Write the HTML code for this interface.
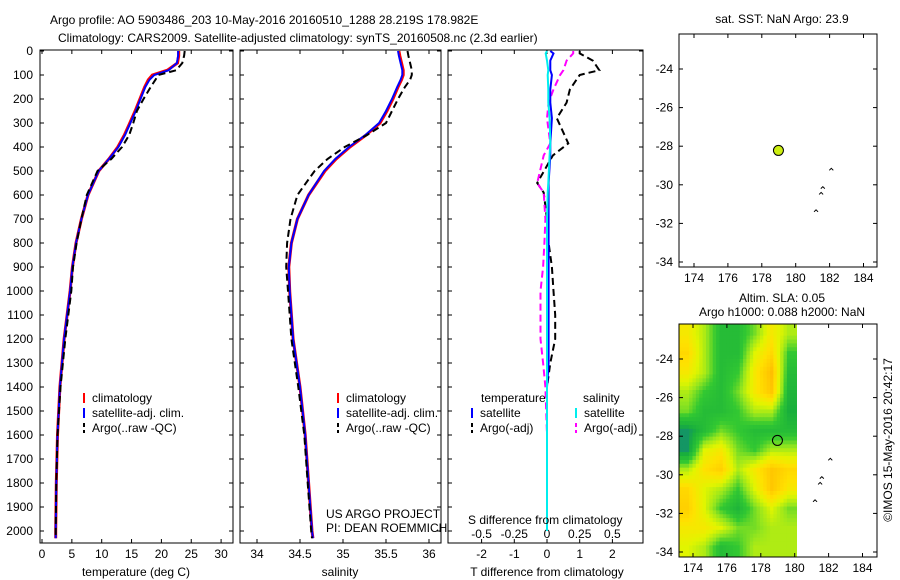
<!DOCTYPE html>
<html><head><meta charset="utf-8"><style>
body{margin:0;background:#fff;}
svg{display:block;font-family:"Liberation Sans","DejaVu Sans",sans-serif;}
text{font-size:12px;fill:#000;}
</style></head><body>
<svg id="c" width="900" height="580" viewBox="0 0 900 580" xmlns="http://www.w3.org/2000/svg">
<defs>
<clipPath id="hmclip"><rect x="679" y="324" width="118" height="233"/></clipPath>
</defs>
<text x="50" y="24">Argo profile: AO 5903486_203 10-May-2016 20160510_1288 28.219S 178.982E</text>
<text x="58" y="42">Climatology: CARS2009. Satellite-adjusted climatology: synTS_20160508.nc (2.3d earlier)</text>
<g id="g"></g>
</svg>
<script>
// ---- data ----
const depths = [0,20,50,80,100,120,150,200,250,300,350,400,450,500,600,700,800,900,1000,1200,1400,1600,1800,2000,2030];
const tempClim = [22.9,22.9,22.7,21,18.5,17.8,17.2,16.4,15.6,14.7,13.8,12.7,11.2,9.5,7.7,6.6,5.7,5.1,4.7,3.7,3.0,2.6,2.4,2.3,2.3];
const tempSat  = [22.8,22.8,22.6,21.2,18.8,18,17.3,16.5,15.7,14.8,13.9,12.8,11.2,9.5,7.7,6.6,5.7,5.1,4.7,3.7,3.0,2.6,2.4,2.3,2.3];
const tempArgo = [23.9,23.8,23.5,22.5,19.5,19,18.2,17.0,15.9,15.3,14.6,13.4,11.6,9.3,7.5,6.6,5.8,5.2,4.9,3.9,3.1,2.6,2.4,2.3,2.3];
const salClim = [35.65,35.66,35.68,35.7,35.7,35.68,35.64,35.58,35.51,35.43,35.27,35.08,34.92,34.79,34.6,34.47,34.4,34.37,34.38,34.42,34.5,34.56,34.6,34.64,34.65];
const salSat  = [35.64,35.65,35.67,35.69,35.69,35.67,35.63,35.57,35.5,35.42,35.26,35.07,34.91,34.78,34.6,34.47,34.4,34.37,34.38,34.42,34.5,34.56,34.6,34.64,34.65];
const salArgo = [35.75,35.76,35.78,35.8,35.8,35.78,35.72,35.64,35.57,35.5,35.28,35.02,34.82,34.67,34.47,34.39,34.35,34.34,34.36,34.4,34.48,34.55,34.59,34.63,34.64];
const diffDepths = [0,10,40,80,100,160,215,280,385,435,550,590,700,800,900,1000,1100,1200,1300,1400,1600,1800,2000];
const dTsat  = [0.1,0.2,0.1,0.1,0.15,0.1,0.1,0.15,0.1,0.1,0.05,0.05,0.05,0.05,0.05,0.05,0.05,0.05,0.05,0.0,0.0,0.0,0.0];
const dSsat  = [0,-0.01,0,0.01,0.005,0.01,0.01,0.02,0.025,0.02,0.01,0.005,0.0,0.0,0.0,0.0,0.0,0.0,0.0,0.0,0.0,0.0,0.0];
const dTargo = [1.0,1.0,1.4,1.6,1.0,0.7,0.6,0.3,0.65,0.18,-0.3,-0.1,0.0,0.05,0.15,0.2,0.25,0.25,0.1,0.0,0.0,0.0,0.0];
const dSargo = [0.2,0.2,0.15,0.125,0.1,0.05,0.012,0.0,0.025,-0.025,-0.075,-0.025,-0.012,-0.02,-0.03,-0.05,-0.05,-0.05,-0.03,-0.012,0.0,0.0,0.0];
const tTicks = [0,5,10,15,20,25,30];
const sTicks = [34,34.5,35,35.5,36];
const dTicksT = [-2,-1,0,1,2];
const dTicksS = ["-0.5","-0.25","0","0.25","0.5"];
const depthTicks = [0,100,200,300,400,500,600,700,800,900,1000,1100,1200,1300,1400,1500,1600,1700,1800,1900,2000];
const lonTicks = [174,176,178,180,182,184];
const latTicks = [-24,-26,-28,-30,-32,-34];
const argoLon = [178.982];
const argoLat = [-28.219];
const slaRows = [
[0.6,0.4,0.1,0.1,0.3,0.6,0.4],
[0.7,0.4,0.1,0.1,0.5,0.7,0.2],
[0.6,0.4,0.1,0.2,0.6,0.85,0.1],
[0.4,0.2,0.1,0.3,0.6,0.8,0.05],
[0.3,0.1,0.1,0.2,0.4,0.4,0.0],
[-0.1,0.1,0.3,0.2,0.1,0.1,0.1],
[-0.1,0.5,0.6,0.3,0.2,0.4,0.4],
[0.4,0.65,0.75,0.4,0.6,0.8,0.7],
[0.7,0.5,0.4,0.2,0.5,0.8,0.6],
[0.75,0.5,0.2,0.05,0.3,0.5,0.3],
[0.6,0.6,0.5,0.3,0.3,0.4,0.4],
[0.5,0.4,0.1,0.2,0.4,0.4,0.4]];

// ---- helpers ----
const NS="http://www.w3.org/2000/svg";
const G=document.getElementById('g');
function mk(tag,at,parent){const e=document.createElementNS(NS,tag);for(const k in at)e.setAttribute(k,at[k]);(parent||G).appendChild(e);return e;}
function txt(x,y,s,anchor,extra){const e=mk('text',Object.assign({x:x,y:y,'text-anchor':anchor||'start'},extra||{}));e.textContent=s;return e;}
const yD = d => 51 + d*0.24;
const PT=50, PB=543;
const xT = v => 42 + v*5.97;
const xS = v => 257 + (v-34)*86;
const xDT = v => 547 + v*32.7;
const xDS = v => 547 + v*4*32.7;

function frame(x0,x1,name){
  const r=mk('rect',{x:x0,y:PT,width:x1-x0,height:PB-PT,fill:'none',stroke:'#000','stroke-width':1});
  
  
  depthTicks.forEach(d=>{mk('line',{x1:x0,x2:x0+4,y1:yD(d),y2:yD(d),stroke:'#000'});mk('line',{x1:x1,x2:x1-4,y1:yD(d),y2:yD(d),stroke:'#000'});});
}
function line(xs,ds,xf,color,dash,w,name){
  const p=xs.map((v,i)=>xf(v).toFixed(1)+','+yD(ds[i]).toFixed(1)).join(' ');
  const e=mk('polyline',{points:p,fill:'none',stroke:color,'stroke-width':w||2,'stroke-dasharray':dash||'none'});
  
  
}
function legend(x,y,items){
  items.forEach((it,i)=>{
    const yy=y+i*15;
    mk('line',{x1:x,x2:x,y1:yy-9,y2:yy+1,stroke:it[1],'stroke-width':2,'stroke-dasharray':it[2]||'none'});
    const t=txt(x+8,yy,it[0]);
    
    
  });
}

// ---- panel 1 temperature ----
frame(40,233,'temperature-panel');
depthTicks.forEach(d=>{const t=txt(33,yD(d)+4,String(d),'end');});
tTicks.forEach(v=>{mk('line',{x1:xT(v),x2:xT(v),y1:PB,y2:PB-4,stroke:'#000'});mk('line',{x1:xT(v),x2:xT(v),y1:PT,y2:PT+4,stroke:'#000'});const t=txt(xT(v),558,String(v),'middle');});
line(tempClim,depths,xT,'#f00',null,3,'temperature-climatology-line');
line(tempSat,depths,xT,'#00f',null,2,'temperature-satellite-line');
line(tempArgo,depths,xT,'#000','7,4',2,'temperature-argo-line');
{const t=txt(136,576,'temperature (deg C)','middle');}
legend(84,402,[['climatology','#f00'],['satellite-adj. clim.','#00f'],['Argo(..raw -QC)','#000','4,3']]);

// ---- panel 2 salinity ----
frame(240,441,'salinity-panel');
sTicks.forEach(v=>{mk('line',{x1:xS(v),x2:xS(v),y1:PB,y2:PB-4,stroke:'#000'});mk('line',{x1:xS(v),x2:xS(v),y1:PT,y2:PT+4,stroke:'#000'});const t=txt(xS(v),558,String(v),'middle');});
line(salClim,depths,xS,'#f00',null,3,'salinity-climatology-line');
line(salSat,depths,xS,'#00f',null,2,'salinity-satellite-line');
line(salArgo,depths,xS,'#000','7,4',2,'salinity-argo-line');
{const t=txt(340,576,'salinity','middle');}
legend(338,402,[['climatology','#f00'],['satellite-adj. clim.','#00f'],['Argo(..raw -QC)','#000','4,3']]);
txt(326,518,'US ARGO PROJECT');
txt(326,532,'PI: DEAN ROEMMICH');

// ---- panel 3 differences ----
frame(448,643,'difference-panel');
dTicksT.forEach(v=>{mk('line',{x1:xDT(v),x2:xDT(v),y1:PB,y2:PB-4,stroke:'#000'});mk('line',{x1:xDT(v),x2:xDT(v),y1:PT,y2:PT+4,stroke:'#000'});const t=txt(xDT(v),558,String(v),'middle');});
dTicksS.forEach(s=>{const t=txt(xDS(parseFloat(s)),538,s,'middle');});
line(dTargo,diffDepths,xDT,'#000','7,4',2,'t-difference-argo-line');
line(dSargo,diffDepths,xDS,'#f0f','7,4',2,'s-difference-argo-line');
line(dTsat,diffDepths,xDT,'#00f',null,2,'t-difference-satellite-line');
line(dSsat,diffDepths,xDS,'#0ee',null,2,'s-difference-satellite-line');
txt(481,402,'temperature');txt(583,402,'salinity');
legend(472,417,[['satellite','#00f'],['Argo(-adj)','#000','4,3']]);
legend(576,417,[['satellite','#0ee'],['Argo(-adj)','#f0f','4,3']]);
{const t=txt(468,524,'S difference from climatology');}
{const t=txt(547,576,'T difference from climatology','middle');}

// ---- maps ----
function mapAxes(top,bot,lon0x,lat24y,name){
  const lx=v=>lon0x+(v-174)*16.95;
  const ly=v=>lat24y+(-24-v)*19.3;
  const r=mk('rect',{x:679,y:top,width:198,height:bot-top,fill:'none',stroke:'#000'});
  
  
  lonTicks.forEach(v=>{mk('line',{x1:lx(v),x2:lx(v),y1:bot,y2:bot-4,stroke:'#000'});mk('line',{x1:lx(v),x2:lx(v),y1:top,y2:top+4,stroke:'#000'});const t=txt(lx(v),bot+15,String(v),'middle');});
  latTicks.forEach(v=>{mk('line',{x1:679,x2:683,y1:ly(v),y2:ly(v),stroke:'#000'});mk('line',{x1:877,x2:873,y1:ly(v),y2:ly(v),stroke:'#000'});const t=txt(673,ly(v)+4,String(v),'end');});
  [[182.1,-29.25],[181.6,-30.2],[181.5,-30.5],[181.2,-31.4]].forEach(p=>mk('path',{d:`M${lx(p[0])-2},${ly(p[1])} l2,-2 l2,2`,fill:'none',stroke:'#000','stroke-width':1}));
  return [lx,ly];
}
// heatmap (map 2): bilinear-smoothed rendering of the slaRows grid
const hmG=mk('g',{'clip-path':'url(#hmclip)'});


function col(v){
  const stops=[[-0.1,[20,150,100]],[0,[25,175,60]],[0.2,[50,200,50]],[0.35,[150,230,30]],[0.5,[225,245,0]],[0.65,[255,225,0]],[0.85,[255,190,0]]];
  if(v<=stops[0][0])return 'rgb('+stops[0][1]+')';
  for(let i=1;i<stops.length;i++){if(v<=stops[i][0]){const a=stops[i-1],b=stops[i],t=(v-a[0])/(b[0]-a[0]);return 'rgb('+a[1].map((c,k)=>Math.round(c+(b[1][k]-c)*t)).join(',')+')';}}
  return 'rgb('+stops[stops.length-1][1]+')';
}
const nR=slaRows.length, nC=slaRows[0].length;
const cw=118/nC, ch=233/nR, SUB=5;
function sample(fr,fc){
  fr=Math.max(0,Math.min(nR-1,fr)); fc=Math.max(0,Math.min(nC-1,fc));
  const r0=Math.floor(fr), c0=Math.floor(fc), r1=Math.min(nR-1,r0+1), c1=Math.min(nC-1,c0+1);
  const tr=fr-r0, tc=fc-c0;
  const a=slaRows[r0][c0]*(1-tc)+slaRows[r0][c1]*tc;
  const b=slaRows[r1][c0]*(1-tc)+slaRows[r1][c1]*tc;
  return a*(1-tr)+b*tr;
}
for(let i=0;i<nR*SUB;i++){
  for(let j=0;j<nC*SUB;j++){
    const v=sample((i+0.5)/SUB-0.5,(j+0.5)/SUB-0.5);
    const e=mk('rect',{x:(679+j*cw/SUB).toFixed(2),y:(324+i*ch/SUB).toFixed(2),width:(cw/SUB+0.6).toFixed(2),height:(ch/SUB+0.6).toFixed(2),fill:col(v)},hmG);
    
    
  }
}
const [lx1,ly1]=mapAxes(34,267,694,69,'sst-map-frame');
const [lx2,ly2]=mapAxes(324,557,693,359,'sla-map-frame');
argoLon.forEach((lo,i)=>{
  const a=mk('circle',{cx:lx1(lo),cy:ly1(argoLat[i]),r:5,fill:'#ccee11',stroke:'#000','stroke-width':1});
  
  
  const b=mk('circle',{cx:lx2(lo),cy:ly2(argoLat[i]),r:5,fill:'none',stroke:'#000','stroke-width':1});
  
  
});
txt(782,23,'sat. SST: NaN Argo: 23.9','middle');
txt(782,302,'Altim. SLA: 0.05','middle');
txt(782,316,'Argo h1000: 0.088 h2000: NaN','middle');
{const t=txt(0,0,'\u00A9IMOS 15-May-2016 20:42:17','middle',{transform:'translate(892,440) rotate(-90)'});}
</script>
</body></html>
